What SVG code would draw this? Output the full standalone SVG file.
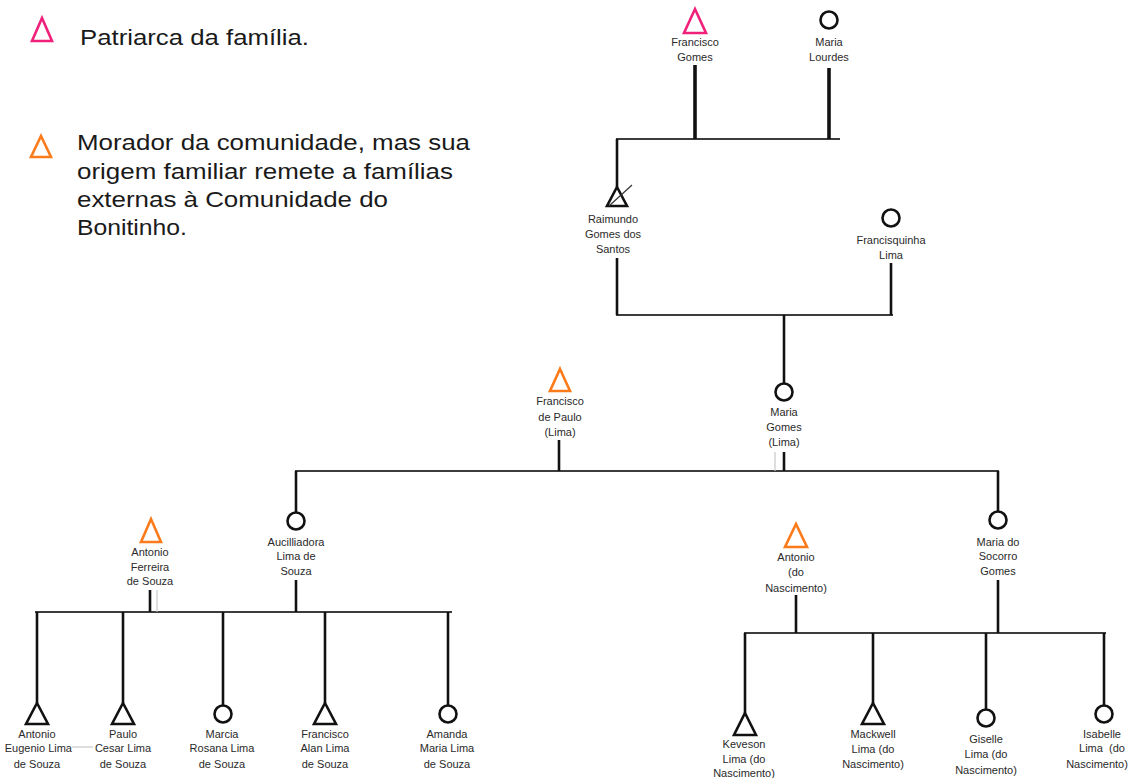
<svg xmlns="http://www.w3.org/2000/svg" width="1129" height="778" viewBox="0 0 1129 778">
<style>
.bg{fill:#fff}
.h{stroke:#3c3c3c;stroke-width:2;fill:none}
.v{stroke:#111;stroke-width:2.6;fill:none}
.vt{stroke:#111;stroke-width:3.6;fill:none}
.g{stroke:#c8c8c8;stroke-width:1.2;fill:none}
.tri{fill:#fff;stroke:#111;stroke-width:2.6;stroke-linejoin:miter}
.pink{fill:#fff;stroke:#f0207a;stroke-width:2.6}
.orange{fill:#fff;stroke:#fb7a1a;stroke-width:2.6}
.cir{fill:#fff;stroke:#111;stroke-width:2.6}
.lbl{font-family:"Liberation Sans",Arial,sans-serif;font-size:11px;fill:#2a2a2a;text-anchor:middle}
.leg{font-family:"Liberation Sans",Arial,sans-serif;font-size:22px;fill:#1a1a1a}
</style>
<rect class="bg" x="0" y="0" width="1129" height="778"/>

<g id="legend">
  <polygon class="pink" points="42,18 52,41 32,41"/>
  <text class="leg" x="80" y="45" textLength="229" lengthAdjust="spacingAndGlyphs">Patriarca da família.</text>
  <polygon class="orange" points="41,136 51,157 31,157"/>
  <text class="leg" x="77" y="150" textLength="393" lengthAdjust="spacingAndGlyphs">Morador da comunidade, mas sua</text>
  <text class="leg" x="77" y="178.5" textLength="376" lengthAdjust="spacingAndGlyphs">origem familiar remete a famílias</text>
  <text class="leg" x="77" y="207" textLength="311" lengthAdjust="spacingAndGlyphs">externas à Comunidade do</text>
  <text class="leg" x="77" y="235" textLength="110" lengthAdjust="spacingAndGlyphs">Bonitinho.</text>
</g>

<g id="connectors">
  <line class="h" x1="616" y1="139" x2="840" y2="139"/>
  <line class="vt" x1="695" y1="65" x2="695" y2="139"/>
  <line class="vt" x1="829" y1="68" x2="829" y2="139"/>
  <line class="v" x1="617" y1="139" x2="617" y2="187"/>

  <line class="h" x1="616" y1="315" x2="893" y2="315"/>
  <line class="v" x1="617" y1="258" x2="617" y2="315"/>
  <line class="v" x1="891" y1="263" x2="891" y2="315"/>
  <line class="v" x1="784" y1="315" x2="784" y2="383"/>

  <line class="h" x1="295" y1="471" x2="999" y2="471"/>
  <line class="v" x1="559" y1="440" x2="559" y2="471"/>
  <line class="v" x1="784" y1="452" x2="784" y2="471"/>
  <line class="g" x1="775" y1="452" x2="775" y2="471"/>
  <line class="v" x1="296" y1="471" x2="296" y2="512"/>
  <line class="v" x1="998" y1="471" x2="998" y2="511"/>

  <line class="h" x1="35" y1="612" x2="452" y2="612"/>
  <line class="v" x1="150" y1="590" x2="150" y2="612"/>
  <line class="g" x1="157" y1="590" x2="157" y2="612"/>
  <line class="v" x1="296" y1="580" x2="296" y2="612"/>
  <line class="v" x1="37" y1="612" x2="37" y2="703"/>
  <line class="v" x1="123" y1="612" x2="123" y2="703"/>
  <line class="v" x1="223" y1="612" x2="223" y2="705"/>
  <line class="v" x1="325" y1="612" x2="325" y2="703"/>
  <line class="v" x1="448" y1="612" x2="448" y2="705"/>
  <line class="g" x1="72" y1="747" x2="93" y2="747"/>

  <line class="h" x1="744" y1="633" x2="1106" y2="633"/>
  <line class="v" x1="796" y1="595" x2="796" y2="633"/>
  <line class="v" x1="998" y1="580" x2="998" y2="633"/>
  <line class="v" x1="745" y1="633" x2="745" y2="713"/>
  <line class="v" x1="873" y1="633" x2="873" y2="703"/>
  <line class="v" x1="986" y1="633" x2="986" y2="709"/>
  <line class="v" x1="1104" y1="633" x2="1104" y2="705"/>
</g>

<g id="francisco-gomes">
  <polygon class="pink" points="695,9 706,33 684,33"/>
  <text class="lbl" x="695" y="46">Francisco</text>
  <text class="lbl" x="695" y="61">Gomes</text>
</g>
<g id="maria-lourdes">
  <circle class="cir" cx="829" cy="20" r="8.5"/>
  <text class="lbl" x="829" y="46">Maria</text>
  <text class="lbl" x="829" y="61">Lourdes</text>
</g>
<g id="raimundo">
  <polygon class="tri" points="617,187 627,206 607,206"/>
  <line stroke="#333" stroke-width="1.2" x1="609" y1="206" x2="632" y2="185"/>
  <text class="lbl" x="613" y="223">Raimundo</text>
  <text class="lbl" x="613" y="238">Gomes dos</text>
  <text class="lbl" x="613" y="253">Santos</text>
</g>
<g id="francisquinha">
  <circle class="cir" cx="891" cy="218" r="8.5"/>
  <text class="lbl" x="891" y="244">Francisquinha</text>
  <text class="lbl" x="891" y="259">Lima</text>
</g>
<g id="maria-gomes">
  <circle class="cir" cx="784" cy="392" r="8.5"/>
  <text class="lbl" x="784" y="416">Maria</text>
  <text class="lbl" x="784" y="431">Gomes</text>
  <text class="lbl" x="784" y="446">(Lima)</text>
</g>
<g id="francisco-de-paulo">
  <polygon class="orange" points="560,369 570,391 550,391"/>
  <text class="lbl" x="560" y="405">Francisco</text>
  <text class="lbl" x="560" y="421">de Paulo</text>
  <text class="lbl" x="560" y="436">(Lima)</text>
</g>
<g id="aucilliadora">
  <circle class="cir" cx="296" cy="521" r="8.5"/>
  <text class="lbl" x="296" y="546">Aucilliadora</text>
  <text class="lbl" x="296" y="560">Lima de</text>
  <text class="lbl" x="296" y="575">Souza</text>
</g>
<g id="antonio-ferreira">
  <polygon class="orange" points="151,519 161,542 141,542"/>
  <text class="lbl" x="150" y="556">Antonio</text>
  <text class="lbl" x="150" y="571">Ferreira</text>
  <text class="lbl" x="150" y="585">de Souza</text>
</g>
<g id="maria-do-socorro">
  <circle class="cir" cx="998" cy="520" r="8.5"/>
  <text class="lbl" x="998" y="546">Maria do</text>
  <text class="lbl" x="998" y="560">Socorro</text>
  <text class="lbl" x="998" y="575">Gomes</text>
</g>
<g id="antonio-nascimento">
  <polygon class="orange" points="796,524 807,547 785,547"/>
  <text class="lbl" x="796" y="561">Antonio</text>
  <text class="lbl" x="796" y="576">(do</text>
  <text class="lbl" x="796" y="592">Nascimento)</text>
</g>

<g id="antonio-eugenio">
  <polygon class="tri" points="37,703 48,724 26,724"/>
  <text class="lbl" x="37" y="738">Antonio</text>
  <text class="lbl" x="72" y="752" style="text-anchor:end">Eugenio Lima</text>
  <text class="lbl" x="37" y="768">de Souza</text>
</g>
<g id="paulo-cesar">
  <polygon class="tri" points="123,703 134,724 112,724"/>
  <text class="lbl" x="123" y="738">Paulo</text>
  <text class="lbl" x="123" y="752">Cesar Lima</text>
  <text class="lbl" x="123" y="768">de Souza</text>
</g>
<g id="marcia-rosana">
  <circle class="cir" cx="223" cy="714" r="8.5"/>
  <text class="lbl" x="222" y="738">Marcia</text>
  <text class="lbl" x="222" y="752">Rosana Lima</text>
  <text class="lbl" x="222" y="768">de Souza</text>
</g>
<g id="francisco-alan">
  <polygon class="tri" points="325,703 336,724 314,724"/>
  <text class="lbl" x="325" y="738">Francisco</text>
  <text class="lbl" x="325" y="752">Alan Lima</text>
  <text class="lbl" x="325" y="768">de Souza</text>
</g>
<g id="amanda-maria">
  <circle class="cir" cx="448" cy="714" r="8.5"/>
  <text class="lbl" x="447" y="738">Amanda</text>
  <text class="lbl" x="447" y="752">Maria Lima</text>
  <text class="lbl" x="447" y="768">de Souza</text>
</g>

<g id="keveson">
  <polygon class="tri" points="745,713 756,735 734,735"/>
  <text class="lbl" x="744" y="748">Keveson</text>
  <text class="lbl" x="744" y="763">Lima (do</text>
  <text class="lbl" x="744" y="777">Nascimento)</text>
</g>
<g id="mackwell">
  <polygon class="tri" points="873,703 884,724 862,724"/>
  <text class="lbl" x="873" y="738">Mackwell</text>
  <text class="lbl" x="873" y="753">Lima (do</text>
  <text class="lbl" x="873" y="768">Nascimento)</text>
</g>
<g id="giselle">
  <circle class="cir" cx="986" cy="718" r="8.5"/>
  <text class="lbl" x="986" y="743">Giselle</text>
  <text class="lbl" x="986" y="758">Lima (do</text>
  <text class="lbl" x="986" y="774">Nascimento)</text>
</g>
<g id="isabelle">
  <circle class="cir" cx="1104" cy="714" r="8.5"/>
  <text class="lbl" x="1102" y="738">Isabelle</text>
  <text class="lbl" x="1102" y="752" xml:space="preserve">Lima  (do</text>
  <text class="lbl" x="1097" y="768">Nascimento)</text>
</g>
</svg>
